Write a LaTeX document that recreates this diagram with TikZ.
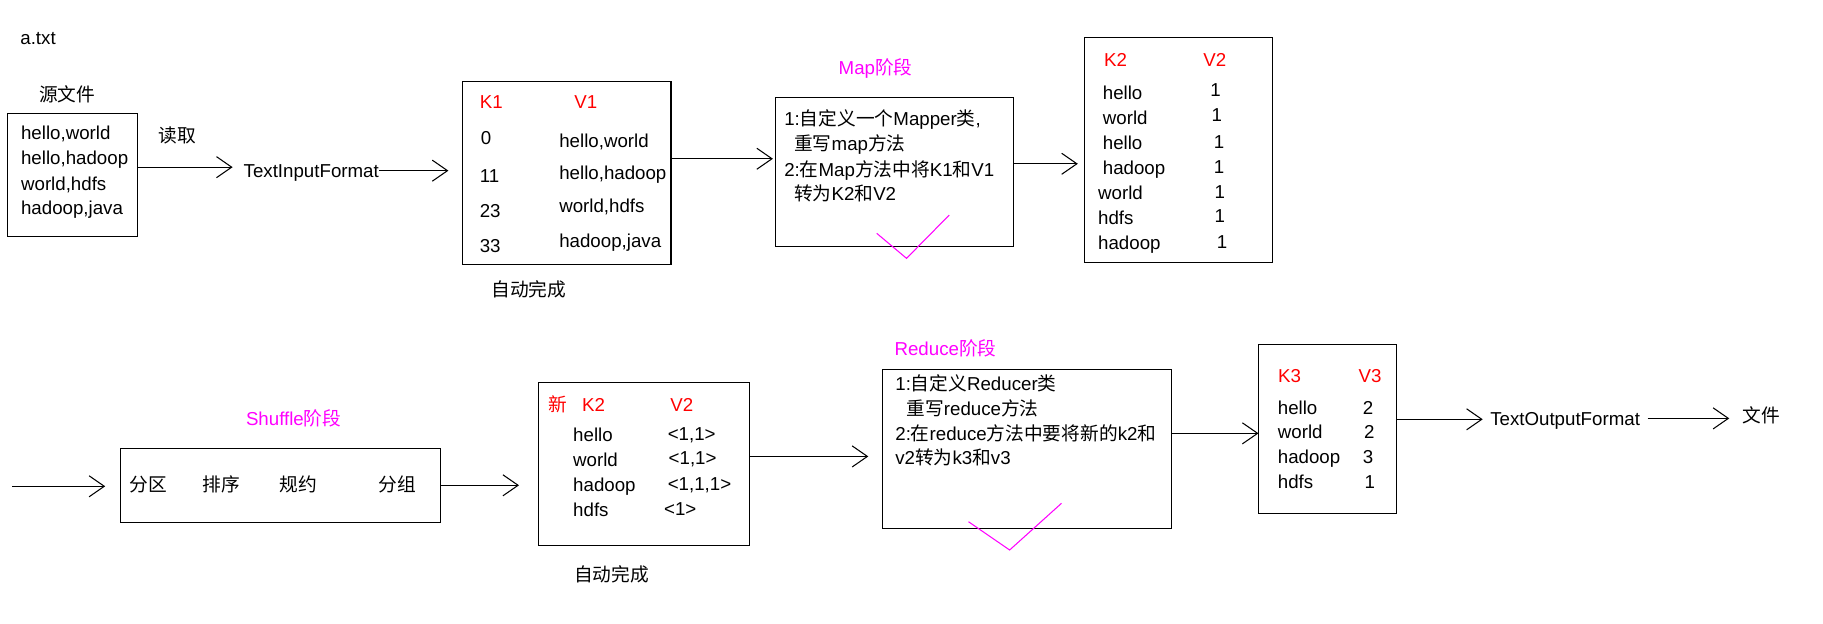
\documentclass[tikz,border=0pt]{standalone}
\usepackage{fontspec}
\setmainfont{Liberation Sans}
\newfontfamily\cjk{Noto Sans CJK SC}
\usetikzlibrary{arrows.meta}
\definecolor{stagepink}{RGB}{255,0,255}
\definecolor{keyred}{RGB}{255,0,0}

\begin{document}
\begin{tikzpicture}[x=1pt, y=-1pt, line width=0.9pt,
        every node/.style={font=\fontsize{16}{19}\selectfont},
        txt/.style={anchor=west, inner sep=0pt, text height=11.5pt, text depth=0pt},
        key/.style={txt, color=keyred},
        stage/.style={txt, color=stagepink},
        box/.style={draw, anchor=north west, inner sep=0pt, outer sep=0pt},
        flow/.style={-{Straight Barb[length=13pt, width=18pt]}},
        tick/.style={draw=stagepink}]
            \useasboundingbox (0,0) rectangle (1559.5,533);

            % top row
            \node[txt] (atxt) at (17,32) {a.txt};
            \node[txt] (srctitle) at (33,81) {\cjk 源文件};
            \node[box, minimum width=111.5pt, minimum height=105pt] (src) at (6.5,97) {};
            \node[txt] (src1) at (17.6,114) {hello,world};
            \node[txt] (src2) at (17.6,135) {hello,hadoop};
            \node[txt] (src3) at (17.6,157) {world,hdfs};
            \node[txt] (src4) at (17.6,178) {hadoop,java};
            \node[txt] (readlbl) at (135,116) {\cjk 读取};
            \node[txt] (tif) at (208,146) {TextInputFormat};

            \node[box, minimum width=178.4pt, minimum height=156.4pt] (kv1) at (395.6,69.6) {};
            \node[key] (k1) at (410,87) {K1};
            \node[key] (v1) at (491,87) {V1};
            \node[txt] (k1a) at (411,118) {0};
            \node[txt] (k1b) at (410,150) {11};
            \node[txt] (k1c) at (410,180) {23};
            \node[txt] (k1d) at (410,210) {33};
            \node[txt] (v1a) at (478,120) {hello,world};
            \node[txt] (v1b) at (478,148) {hello,hadoop};
            \node[txt] (v1c) at (478,176) {world,hdfs};
            \node[txt] (v1d) at (478,206) {hadoop,java};
            \node[txt] (auto1) at (420,247.5) {\cjk 自动完成};

            \node[stage] (maptitle) at (717,58) {Map{\cjk 阶段}};
            \node[box, minimum width=203.1pt, minimum height=127.2pt] (mapbox) at (663.7,83.5) {};
            \node[txt] (map1) at (670.5,102) {1:{\cjk 自定义一个}Mapper{\cjk 类},};
            \node[txt] (map2) at (679,123) {{\cjk 重写}map{\cjk 方法}};
            \node[txt] (map3) at (670.5,145) {2:{\cjk 在}Map{\cjk 方法中将}K1{\cjk 和}V1};
            \node[txt] (map4) at (679,166) {{\cjk 转为}K2{\cjk 和}V2};
            \draw[tick] (750,199.6) -- (775.5,221) -- (812,184);

            \node[box, minimum width=161.1pt, minimum height=192.4pt] (kv2) at (927.5,32) {};
            \node[key] (k2) at (944,50.8) {K2};
            \node[key] (v2) at (1029,50.8) {V2};
            \node[txt] (k2a) at (943,79) {hello};
            \node[txt] (k2b) at (943,100.6) {world};
            \node[txt] (k2c) at (943,122) {hello};
            \node[txt] (k2d) at (943,143.4) {hadoop};
            \node[txt] (k2e) at (939,165) {world};
            \node[txt] (k2f) at (939,186) {hdfs};
            \node[txt] (k2g) at (939,208) {hadoop};
            \node[txt] (v2a) at (1035,77) {1};
            \node[txt] (v2b) at (1036,98.4) {1};
            \node[txt] (v2c) at (1038,121) {1};
            \node[txt] (v2d) at (1038,142.6) {1};
            \node[txt] (v2e) at (1038.5,164) {1};
            \node[txt] (v2f) at (1038.5,185) {1};
            \node[txt] (v2g) at (1040.5,207) {1};

            \draw[flow, shorten >=9pt] ([yshift=3pt]tif.west -| src.east) -- ([yshift=3pt]tif.west);
            \draw[flow, shorten >=12pt] (tif.east) -- (tif.east -| kv1.west);
            \draw[flow, shorten >=2.5pt] ([yshift=12pt]kv1.east) -- ([yshift=12pt]kv1.east -| mapbox.west);
            \draw[flow, shorten >=5.5pt] ([yshift=7pt]mapbox.east) -- ([yshift=7pt]mapbox.east -| kv2.west);

            % bottom row
            \coordinate (inlet) at (10.6,416);
            \node[stage] (shuftitle) at (210,357.9) {Shuffle{\cjk 阶段}};
            \node[box, minimum width=274pt, minimum height=63.3pt] (shuf) at (103,383.5) {};
            \node[txt] (part) at (110.7,414.9) {\cjk 分区};
            \node[txt] (sort) at (172.8,414.9) {\cjk 排序};
            \node[txt] (comb) at (238.8,414.9) {\cjk 规约};
            \node[txt] (group) at (323.6,414.9) {\cjk 分组};

            \node[box, minimum width=180.5pt, minimum height=139.5pt] (kv2n) at (460.5,327) {};
            \node[key] (newlbl) at (468.5,346.5) {\cjk 新};
            \node[key] (k2n) at (497.5,346.5) {K2};
            \node[key] (v2n) at (573,346.5) {V2};
            \node[txt] (k2na) at (489.9,372) {hello};
            \node[txt] (k2nb) at (489.9,393.5) {world};
            \node[txt] (k2nc) at (489.9,414.9) {hadoop};
            \node[txt] (k2nd) at (489.9,436.3) {hdfs};
            \node[txt] (v2na) at (570.8,371) {<1,1>};
            \node[txt] (v2nb) at (571.6,392) {<1,1>};
            \node[txt] (v2nc) at (570.8,414) {<1,1,1>};
            \node[txt] (v2nd) at (567.7,435) {<1>};
            \node[txt] (auto2) at (490.6,491.3) {\cjk 自动完成};

            \node[stage] (redtitle) at (764.8,298) {Reduce{\cjk 阶段}};
            \node[box, minimum width=247.1pt, minimum height=136pt] (redbox) at (754.8,316) {};
            \node[txt] (red1) at (765.5,327.9) {1:{\cjk 自定义}Reducer{\cjk 类}};
            \node[txt] (red2) at (775,349.3) {{\cjk 重写}reduce{\cjk 方法}};
            \node[txt] (red3) at (765.5,370.7) {2:{\cjk 在}reduce{\cjk 方法中要将新的}k2{\cjk 和}};
            \node[txt] (red4) at (765.5,392) {v2{\cjk 转为}k3{\cjk 和}v3};
            \draw[tick] (828.5,446.3) -- (863.7,470.5) -- (908,430.6);

            \node[box, minimum width=117.8pt, minimum height=144pt] (kv3) at (1076.6,295.1) {};
            \node[key] (k3) at (1093,321.7) {K3};
            \node[key] (v3) at (1161.7,321.7) {V3};
            \node[txt] (k3a) at (1092.7,348.5) {hello};
            \node[txt] (k3b) at (1092.7,369.3) {world};
            \node[txt] (k3c) at (1092.7,390.7) {hadoop};
            \node[txt] (k3d) at (1092.7,412) {hdfs};
            \node[txt] (v3a) at (1165.4,348.5) {2};
            \node[txt] (v3b) at (1166.5,369.3) {2};
            \node[txt] (v3c) at (1165.4,390.7) {3};
            \node[txt] (v3d) at (1167,412) {1};
            \node[txt] (tof) at (1274.4,357.9) {TextOutputFormat};
            \node[txt] (outfile) at (1490.3,355.9) {\cjk 文件};

            \draw[flow, shorten >=13pt] (inlet) -- (inlet -| shuf.west);
            \draw[flow, shorten >=16.5pt] (shuf.east) -- (shuf.east -| kv2n.west);
            \draw[flow, shorten >=12pt] ([yshift=6.3pt]kv2n.east) -- ([yshift=6.3pt]kv2n.east -| redbox.west);
            \draw[flow] ([yshift=13.3pt]redbox.east) -- ([yshift=13.3pt]redbox.east -| kv3.west);
            \draw[flow, shorten >=6pt] ([yshift=8.4pt]kv3.east) -- ([yshift=8.4pt]kv3.east -| tof.west);
            \draw[flow, shorten <=6pt, shorten >=11pt] (tof.east) -- (tof.east -| outfile.west);
        \end{tikzpicture}
\end{document}
